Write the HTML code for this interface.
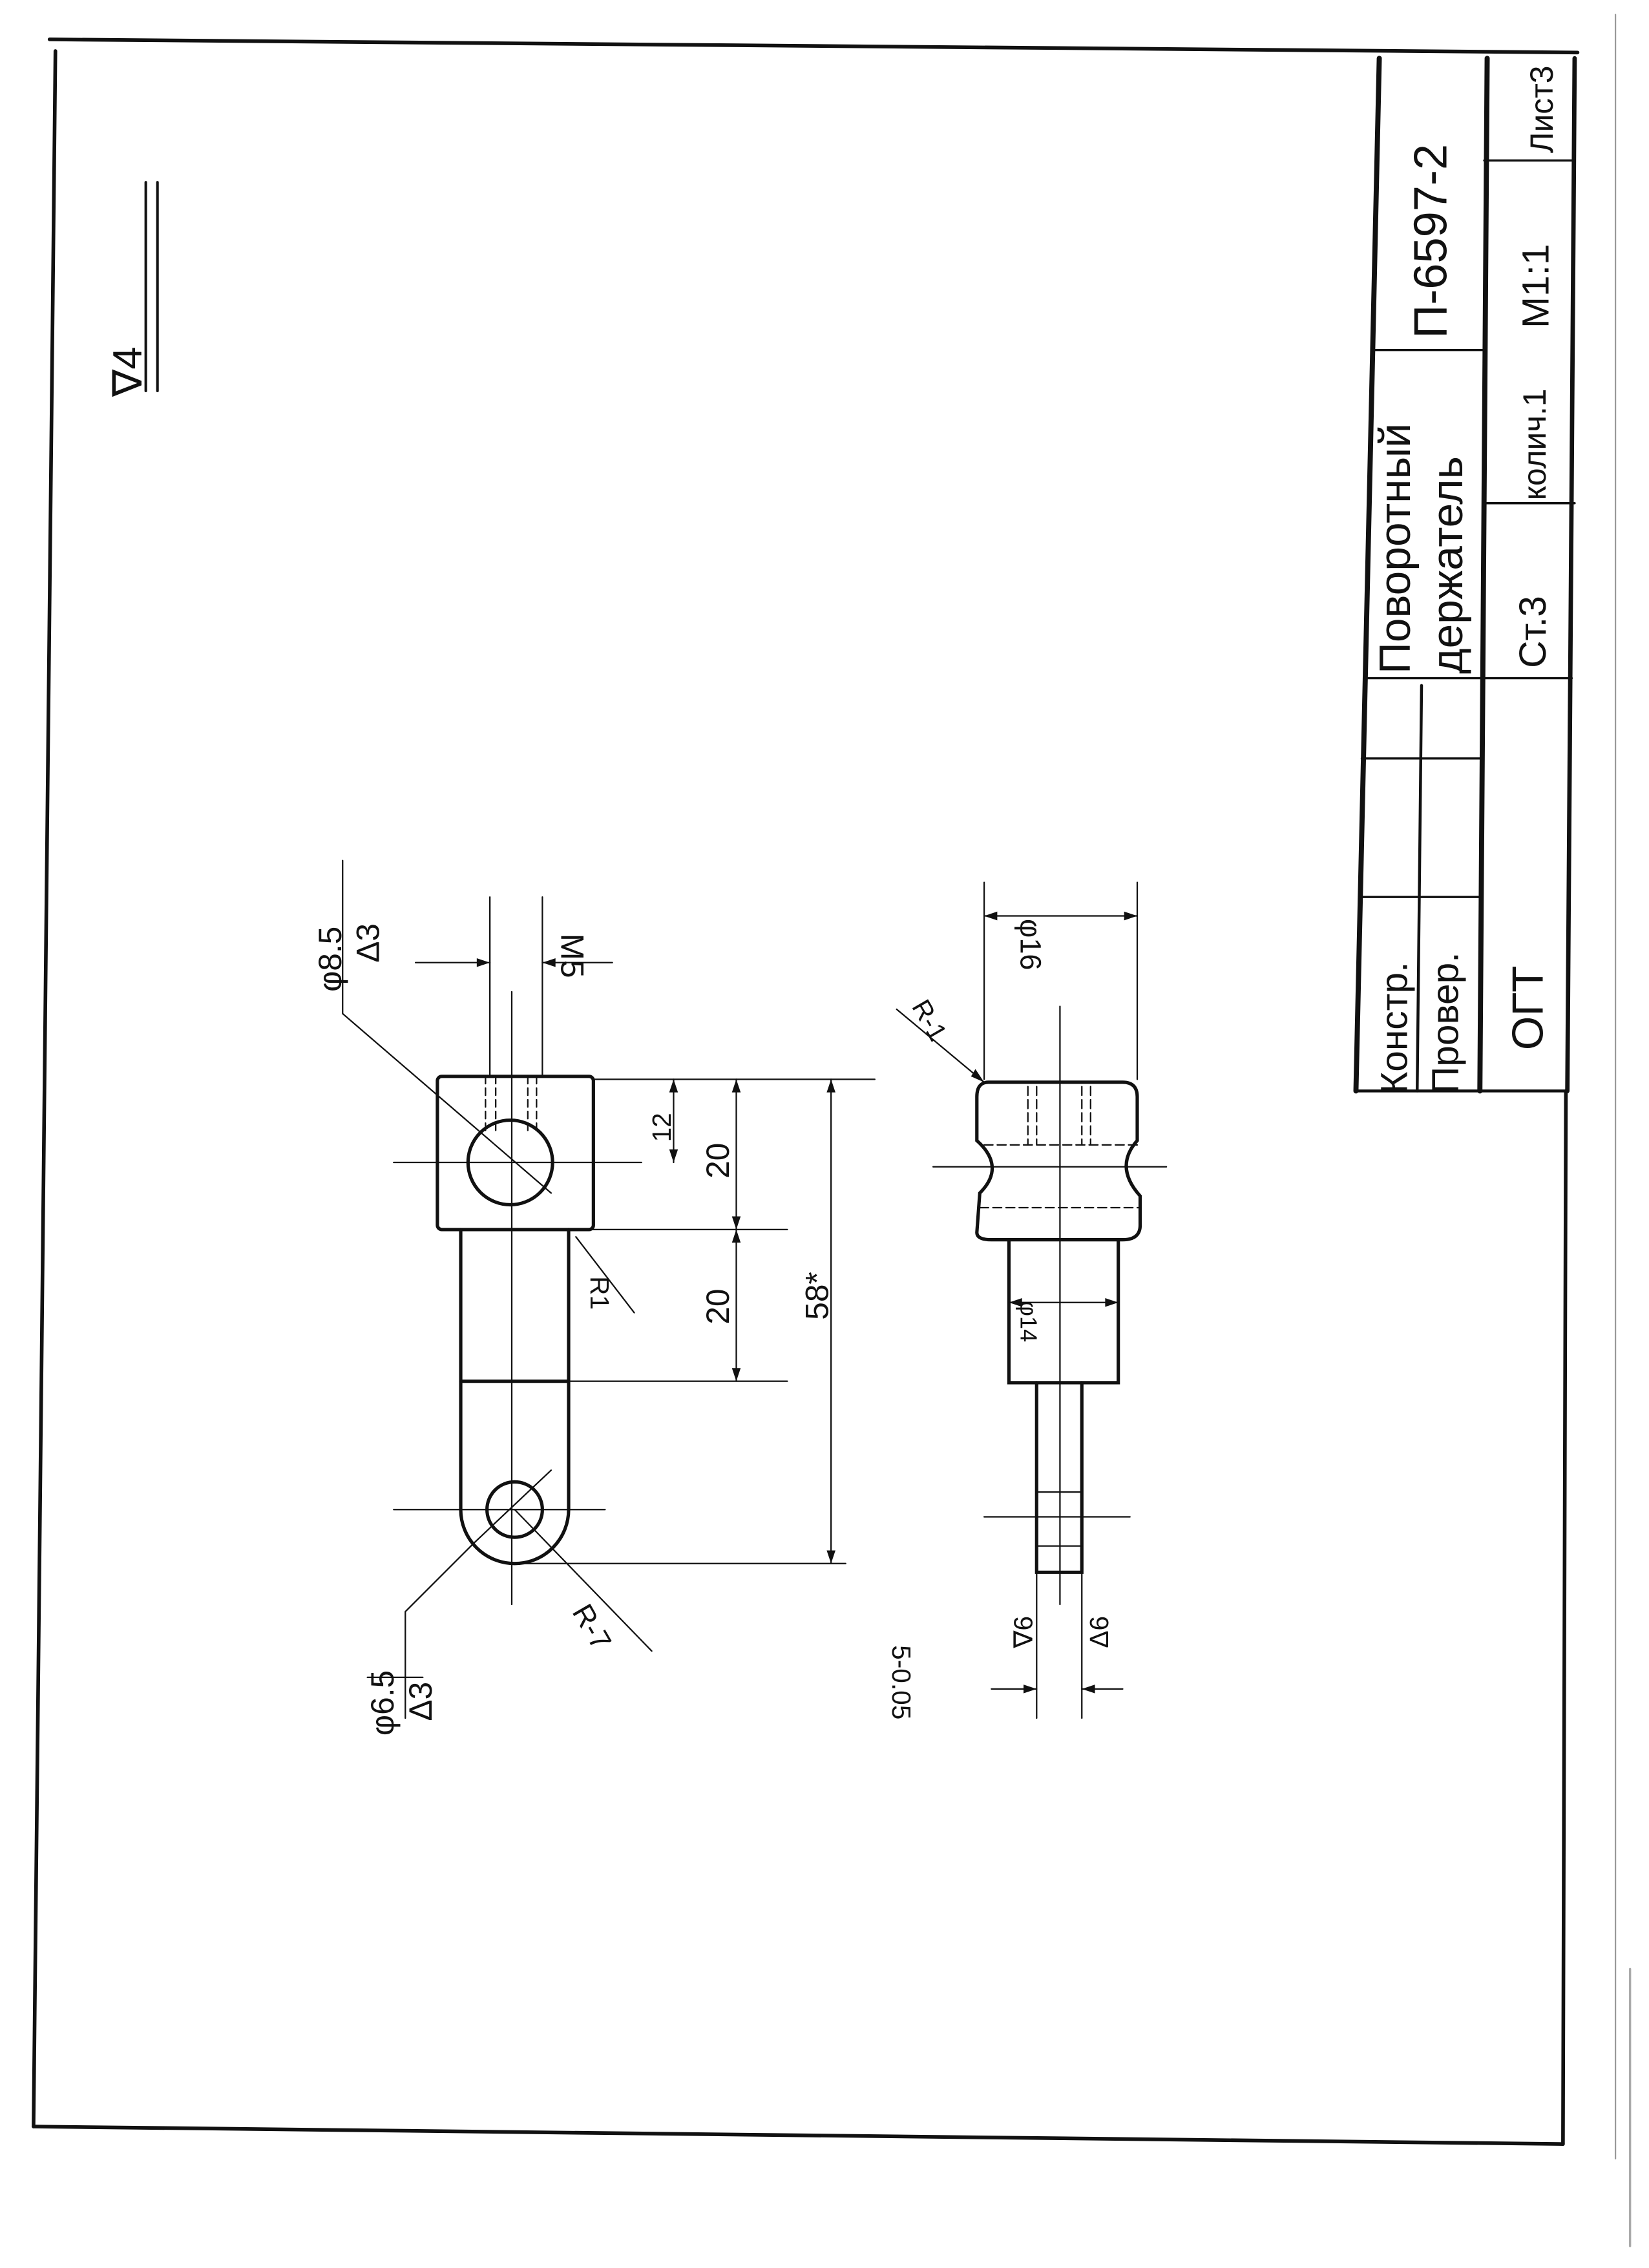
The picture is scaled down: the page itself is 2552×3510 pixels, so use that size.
<!DOCTYPE html>
<html><head><meta charset="utf-8"><style>
html,body{margin:0;padding:0;background:#fff}
svg{display:block}
text{font-family:"Liberation Sans","DejaVu Sans",sans-serif;fill:#111}
</style></head><body>
<svg width="2552" height="3510" viewBox="0 0 1131 1555" preserveAspectRatio="none" xmlns="http://www.w3.org/2000/svg">
<rect width="1131" height="1555" fill="#fff"/>
<g stroke="#111" fill="none" stroke-linecap="round">
<!-- frame -->
<path d="M34 27 L1082 36" stroke-width="2.5"/>
<path d="M38 35 L23 1458" stroke-width="2.5"/>
<path d="M23 1458 L1072 1470" stroke-width="2.5"/>
<path d="M1074 748 L1072 1470" stroke-width="2.5"/>
<path d="M1108 10 L1108 1480" stroke-width="1" stroke="#999"/>
<path d="M1118 1350 L1118 1540" stroke-width="1.5" stroke="#aaa"/>
<!-- title block -->
<path d="M946 40 L930 748" stroke-width="3.5"/>
<path d="M1020 40 L1015 748" stroke-width="3.5"/>
<path d="M1080 40 L1075 748" stroke-width="3"/>
<path d="M930 748 L1075 748" stroke-width="2"/>
<path d="M975 470 L972 748" stroke-width="2"/>
<path d="M933 615 L1015 615" stroke-width="1.5"/>
<path d="M934 520 L1015 520" stroke-width="1.5"/>
<path d="M936 465 L1078 465" stroke-width="1.5"/>
<path d="M941 240 L1018 240" stroke-width="1.5"/>
<path d="M1018 345 L1080 345" stroke-width="1.5"/>
<path d="M1018 110 L1080 110" stroke-width="1.5"/>
<!-- roughness -->
<path d="M100 125 L100 268 M108 125 L108 268" stroke-width="1.8"/>
<!-- LEFT PART -->
<g stroke-width="2.3">
<rect x="300" y="738" width="107" height="105" rx="3"/>
<circle cx="350" cy="797" r="29"/>
<path d="M316 843 L316 1035 A37 37 0 0 0 390 1035 L390 843"/>
<path d="M316 947 L390 947"/>
<circle cx="353" cy="1035" r="19"/>
</g>
<g stroke-width="1">
<path d="M351 680 L351 1100"/>
<path d="M270 797 L440 797 M270 1035 L415 1035"/>
<path d="M336 615 L336 738 M372 615 L372 738"/>
<path d="M333 738 L333 775 M340 738 L340 775 M362 738 L362 775 M368 738 L368 775" stroke-dasharray="5 3"/>
<path d="M285 660 L336 660 M420 660 L372 660"/>
<path d="M235 590 L235 695 L378 818"/>
<path d="M407 740 L600 740 M390 843 L540 843 M316 947 L540 947 M353 1072 L580 1072"/>
<path d="M462 740 L462 797 M505 740 L505 947 M570 740 L570 1072"/>
<path d="M395 848 L435 900"/>
<path d="M353 1035 L447 1132"/>
<path d="M378 1008 L325 1058 L278 1105 L278 1178"/>
<path d="M252 1150 L290 1150"/>
</g>
<g fill="#111" stroke="none">
<path d="M336 660 l-9 -3 l0 6z M372 660 l9 -3 l0 6z"/>
<path d="M505 740 l-3 9 l6 0z M505 843 l-3 -9 l6 0z M505 843 l-3 9 l6 0z M505 947 l-3 -9 l6 0z"/>
<path d="M570 740 l-3 9 l6 0z M570 1072 l-3 -9 l6 0z"/>
<path d="M462 740 l-3 9 l6 0z M462 797 l-3 -9 l6 0z"/>
</g>
<!-- RIGHT PART -->
<g stroke-width="2.3">
<path d="M678 742 Q670 742 670 752 L670 782 Q690 800 672 818 L670 845 Q670 850 680 850 L770 850 Q782 850 782 840 L782 820 Q764 800 780 782 L780 752 Q780 742 770 742 Z"/>
<path d="M692 850 L692 948 L767 948 L767 850"/>
<path d="M711 948 L711 1078 L742 1078 L742 948"/>
</g>
<g stroke-width="1">
<path d="M727 690 L727 1100"/>
<path d="M640 800 L800 800 M675 1040 L775 1040"/>
<path d="M675 785 L780 785 M672 828 L782 828 M705 745 L705 785 M711 745 L711 785 M742 745 L742 785 M748 745 L748 785" stroke-dasharray="6 3"/>
<path d="M675 605 L675 740 M780 605 L780 740 M675 628 L780 628"/>
<path d="M692 893 L767 893"/>
<path d="M615 692 L675 742"/>
<path d="M711 1078 L711 1178 M742 1078 L742 1178"/>
<path d="M711 1023 L742 1023 M711 1060 L742 1060"/>
<path d="M680 1158 L711 1158 M770 1158 L742 1158"/>
</g>
<g fill="#111" stroke="none">
<path d="M675 628 l9 -3 l0 6z M780 628 l-9 -3 l0 6z"/>
<path d="M692 893 l9 -3 l0 6z M767 893 l-9 -3 l0 6z"/>
<path d="M711 1158 l-9 -3 l0 6z M742 1158 l9 -3 l0 6z"/>
<path d="M675 742 l-9 -4 l3 -5z"/>
</g>
</g>
<!-- texts -->
<g font-size="30">
<text transform="translate(965,750) rotate(-90)" font-size="26">Констр.</text>
<text transform="translate(1000,750) rotate(-90)" font-size="26">Провер.</text>
<text transform="translate(1058,720) rotate(-90)" font-size="30">ОГТ</text>
<text transform="translate(967,462) rotate(-90)" font-size="30">Поворотный</text>
<text transform="translate(1003,462) rotate(-90)" font-size="30">держатель</text>
<text transform="translate(992,232) rotate(-90)" font-size="32">П-6597-2</text>
<text transform="translate(1060,458) rotate(-90)" font-size="26">Ст.3</text>
<text transform="translate(1060,343) rotate(-90)" font-size="22">колич.1</text>
<text transform="translate(1062,225) rotate(-90)" font-size="26">М1:1</text>
<text transform="translate(1065,105) rotate(-90)" font-size="22">Лист3</text>
<text transform="translate(97,272) rotate(-90)" font-size="28">∇4</text>
</g>
<g font-size="22">
<text transform="translate(234,680) rotate(-90)">φ8.5</text>
<text transform="translate(260,660) rotate(-90)">Δ3</text>
<text transform="translate(385,640) rotate(90)">M5</text>
<text transform="translate(460,783) rotate(-90)" font-size="18">12</text>
<text transform="translate(500,808) rotate(-90)">20</text>
<text transform="translate(500,908) rotate(-90)">20</text>
<text transform="translate(568,905) rotate(-90)">58*</text>
<text transform="translate(405,875) rotate(90)" font-size="18">R1</text>
<text transform="translate(392,1105) rotate(60)" font-size="20">R-7</text>
<text transform="translate(270,1190) rotate(-90)">φ6.5</text>
<text transform="translate(296,1180) rotate(-90)">Δ3</text>
<text transform="translate(700,630) rotate(90)" font-size="20">φ16</text>
<text transform="translate(625,690) rotate(60)" font-size="18">R-1</text>
<text transform="translate(700,892) rotate(90)" font-size="16">φ14</text>
<text transform="translate(708,1130) rotate(-90)" font-size="18">∇6</text>
<text transform="translate(760,1130) rotate(-90)" font-size="18">Δ6</text>
<text transform="translate(612,1128) rotate(90)" font-size="18">5-0.05</text>
</g>
</svg>
</body></html>
